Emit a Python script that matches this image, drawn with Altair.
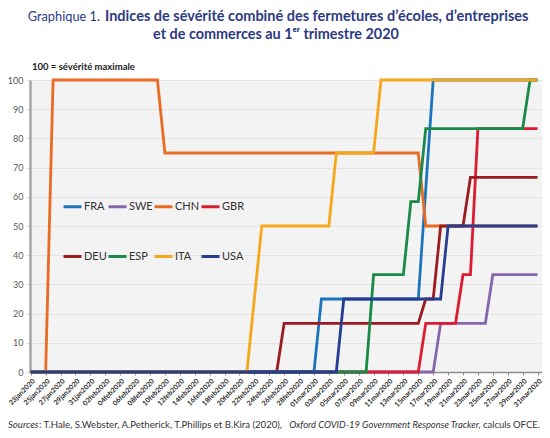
import altair as alt
import pandas as pd
from datetime import datetime

# ---------------- data ----------------
countries = ["FRA", "SWE", "CHN", "GBR", "DEU", "ESP", "ITA", "USA"]
colors = ["#1C75BC", "#8767AC", "#EA6B22", "#DC1D31", "#9B1C20", "#1A8A48", "#F6A71C", "#263D91"]

FRA_dates = ["2020-01-23", "2020-03-01", "2020-03-02", "2020-03-15", "2020-03-17", "2020-03-31"]
FRA_vals = [0, 0, 25, 25, 100, 100]
SWE_dates = ["2020-01-23", "2020-03-17", "2020-03-18", "2020-03-24", "2020-03-25", "2020-03-31"]
SWE_vals = [0, 0, 16.67, 16.67, 33.33, 33.33]
CHN_dates = ["2020-01-23", "2020-01-25", "2020-01-26", "2020-02-09", "2020-02-10", "2020-03-15", "2020-03-16", "2020-03-31"]
CHN_vals = [0, 0, 100, 100, 75, 75, 50, 50]
GBR_dates = ["2020-01-23", "2020-03-15", "2020-03-16", "2020-03-20", "2020-03-21", "2020-03-22", "2020-03-23", "2020-03-31"]
GBR_vals = [0, 0, 16.67, 16.67, 33.33, 33.33, 83.33, 83.33]
DEU_dates = ["2020-01-23", "2020-02-25", "2020-02-26", "2020-03-15", "2020-03-16", "2020-03-17", "2020-03-18", "2020-03-21", "2020-03-22", "2020-03-31"]
DEU_vals = [0, 0, 16.67, 16.67, 25, 25, 50, 50, 66.67, 66.67]
ESP_dates = ["2020-01-23", "2020-03-08", "2020-03-09", "2020-03-13", "2020-03-14", "2020-03-15", "2020-03-16", "2020-03-29", "2020-03-30", "2020-03-31"]
ESP_vals = [0, 0, 33.33, 33.33, 58.33, 58.33, 83.33, 83.33, 100, 100]
ITA_dates = ["2020-01-23", "2020-02-21", "2020-02-23", "2020-03-03", "2020-03-04", "2020-03-09", "2020-03-10", "2020-03-31"]
ITA_vals = [0, 0, 50, 50, 75, 75, 100, 100]
USA_dates = ["2020-01-23", "2020-03-04", "2020-03-05", "2020-03-18", "2020-03-19", "2020-03-31"]
USA_vals = [0, 0, 25, 25, 50, 50]

tick_labels = [
    "23jan2020", "25jan2020", "27jan2020", "29jan2020", "31jan2020",
    "02feb2020", "04feb2020", "06feb2020", "08feb2020", "10feb2020",
    "12feb2020", "14feb2020", "16feb2020", "18feb2020", "20feb2020",
    "22feb2020", "24feb2020", "26feb2020", "28feb2020",
    "01mar2020", "03mar2020", "05mar2020", "07mar2020", "09mar2020",
    "11mar2020", "13mar2020", "15mar2020", "17mar2020", "19mar2020",
    "21mar2020", "23mar2020", "25mar2020", "27mar2020", "29mar2020", "31mar2020",
]
y_ticks = [0, 10, 20, 30, 40, 50, 60, 70, 80, 90, 100]

title_a = "Graphique 1."
title_b = "Indices de sévérité combiné des fermetures d’écoles, d’entreprises"
title_c = "et de commerces au 1ᵉʳ trimestre 2020"
unit_note = "100 = sévérité maximale"
src_a = "Sources"
src_b = ": T.Hale, S.Webster, A.Petherick, T.Phillips et B.Kira (2020),"
src_c = "Oxford COVID-19 Government Response Tracker"
src_d = ", calculs OFCE."

series = {
    "FRA": (FRA_dates, FRA_vals), "SWE": (SWE_dates, SWE_vals),
    "CHN": (CHN_dates, CHN_vals), "GBR": (GBR_dates, GBR_vals),
    "DEU": (DEU_dates, DEU_vals), "ESP": (ESP_dates, ESP_vals),
    "ITA": (ITA_dates, ITA_vals), "USA": (USA_dates, USA_vals),
}

# ---------------- chart ----------------
FONT = "Lato"
NAVY = "#2D3A82"

tick_values = []
for t in tick_labels:
    d = datetime.strptime(t, "%d%b%Y")
    tick_values.append(alt.DateTime(year=d.year, month=d.month, date=d.day, utc=True))

x_scale = alt.Scale(
    type="utc", nice=False,
    domain=[alt.DateTime(year=2020, month=1, date=22, hours=21, minutes=36, utc=True),
            alt.DateTime(year=2020, month=3, date=31, hours=14, minutes=24, utc=True)],
)
y_scale = alt.Scale(domain=[0, 100], nice=False)
color_scale = alt.Scale(domain=countries, range=colors)

x_axis = alt.Axis(
    values=tick_values, labelExpr="lower(utcFormat(datum.value, '%d%b%Y'))",
    labelAngle=-45, labelFont=FONT, labelFontSize=7, labelFontWeight="bold",
    labelColor="#2A2A2A", labelPadding=2, labelOverlap=False, labelFlush=False,
    grid=False, domainColor="#8C8C8C", domainWidth=1.5, tickColor="#8C8C8C",
    tickSize=3, title=None,
)
y_axis = alt.Axis(
    values=y_ticks, grid=True, gridColor="#E3E3E3", gridWidth=1,
    domainColor="#A6A6A6", domainWidth=2.5, tickColor="#D9D9D9", tickSize=4,
    labelFont=FONT, labelFontSize=9, labelColor="#595959", labelPadding=3, title=None,
)
legend = alt.Legend(
    orient="none", legendX=32, legendY=116, direction="horizontal", columns=4,
    title=None, symbolType="stroke", symbolSize=324, symbolStrokeWidth=3,
    labelFont=FONT, labelFontSize=11, labelColor="#333333", labelOffset=1,
    columnPadding=-8, rowPadding=33, values=countries,
)

layers = []
for i, c in enumerate(countries):
    dates, vals = series[c]
    df = pd.DataFrame({"date": dates, "value": vals, "pays": [c] * len(dates)})
    ln = alt.Chart(df).mark_line(strokeWidth=2.8, strokeJoin="miter").encode(
        x=alt.X("date:T", scale=x_scale, axis=x_axis),
        y=alt.Y("value:Q", scale=y_scale, axis=y_axis),
        color=alt.Color("pays:N", scale=color_scale, legend=legend),
    )
    layers.append(ln)


def txt(text, x, y, size, weight="normal", style="normal", align="left", color="#333333"):
    return alt.Chart(pd.DataFrame({"t": [text]})).mark_text(
        font=FONT, fontSize=size, fontWeight=weight, fontStyle=style, align=align,
        baseline="alphabetic", color=color,
    ).encode(x=alt.value(x), y=alt.value(y), text="t:N")


texts = [
    txt(title_a, 70, -59, 12.8, "normal", align="right", color=NAVY),
    txt(title_b, 75, -59, 14.5, "bold", color=NAVY),
    txt(title_c, 246, -41, 14.4, "bold", align="center", color=NAVY),
    txt(unit_note, 2, -10, 9.5, "bold", color="#1A1A1A"),
    txt(src_a, -22, 348, 9.6, style="italic"),
    txt(src_b, 9, 348, 9.6),
    txt(src_c, 449, 348, 9.4, style="italic", align="right"),
    txt(src_d, 510, 348, 9.5, align="right"),
]

chart = alt.layer(*layers, *texts).properties(
    width=512, height=292,
    autosize=alt.AutoSizeParams(type="none"),
    padding={"left": 22, "top": 72, "right": 0, "bottom": 64},
    background="white",
).configure_view(fill="#F3F3F3", stroke=None)

chart.save("out.html", embed_options={"renderer": "svg", "actions": False})
